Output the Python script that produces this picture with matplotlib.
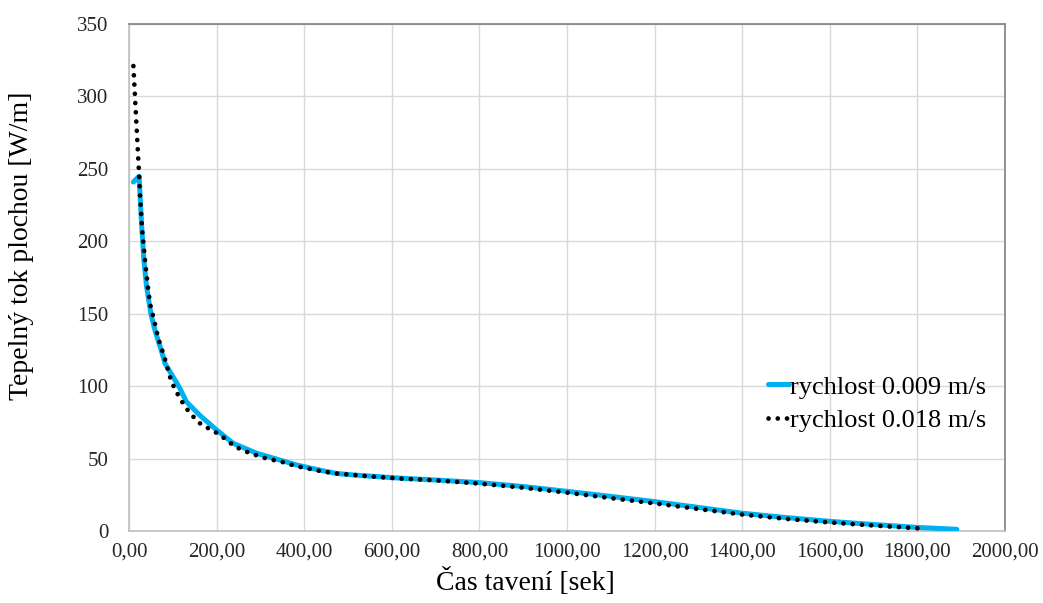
import matplotlib
matplotlib.use("Agg")
import matplotlib.pyplot as plt
from matplotlib.ticker import MultipleLocator, FuncFormatter

# Heat flux over melting time for two feed speeds
t_slow = [10, 23, 25, 29, 34, 40, 50, 59, 78, 82, 116, 131, 162, 200, 238, 291, 344,
          382, 440, 474, 520, 560, 618, 700, 800, 900, 1000, 1100, 1200, 1300, 1400,
          1500, 1600, 1700, 1800, 1890]
q_slow = [241, 245, 233, 210, 187, 169, 150, 139, 120.5, 116, 98.8, 89.5, 80, 70, 60.8,
          54, 49.3, 45.9, 42, 40, 38.8, 38, 36.8, 35.5, 33.7, 31, 27.7, 24.2, 20.6, 16.6,
          12.6, 9.6, 7, 4.8, 2.8, 1.5]

t_fast = [10, 16, 22.5, 25, 30, 36.5, 42.6, 48, 58, 67, 80.5, 97, 116, 139, 166, 189,
          208, 242, 276, 312, 356, 379, 440, 474, 550, 618, 700, 800, 900, 1000, 1100,
          1200, 1300, 1400, 1500, 1600, 1700, 1810]
q_fast = [321, 286, 249, 233, 208, 187, 170, 157, 144.7, 133, 120.5, 103, 91.8, 81.5,
          73.4, 70, 66.5, 58.5, 54, 50.5, 47.5, 45.2, 41.5, 40, 38, 36.5, 35.3, 33,
          30.2, 26.8, 23, 19.4, 15.5, 11.7, 8.7, 6.2, 4.1, 2]

labels = ["rychlost 0.009 m/s", "rychlost 0.018 m/s"]
x_label = "Čas tavení [sek]"
y_label = "Tepelný tok plochou [W/m]"

plt.rcParams["font.family"] = ["Liberation Serif", "DejaVu Serif"]

fig = plt.figure(figsize=(10.43, 6.03), dpi=100)
ax = fig.add_axes([0.1237, 0.1186, 0.8399, 0.8416])

ax.plot(t_slow, q_slow, color="#00b0f0", lw=3.6, solid_capstyle="round",
        solid_joinstyle="round", label=labels[0], zorder=3)
ax.plot(t_fast, q_fast, color="black", lw=3.4, linestyle=(0, (0.01, 1.95)),
        dash_capstyle="round", label=labels[1], zorder=4)

ax.set_xlim(0, 2000)
ax.set_ylim(0, 350)
ax.xaxis.set_major_locator(MultipleLocator(200))
ax.yaxis.set_major_locator(MultipleLocator(50))
ax.xaxis.set_major_formatter(FuncFormatter(lambda v, p: f"{v:.2f}".replace(".", ",")))
ax.yaxis.set_major_formatter(FuncFormatter(lambda v, p: f"{v:.0f}"))

ax.grid(True, color="#d9d9d9", lw=1.0)
ax.set_axisbelow(True)
ax.tick_params(length=0, labelsize=15, colors="#262626")
ax.tick_params(axis="x", pad=8)
ax.tick_params(axis="y", pad=15)
for s in ("left", "bottom"):
    ax.spines[s].set_color("#bfbfbf")
    ax.spines[s].set_linewidth(1.2)
for s in ("top", "right"):
    ax.spines[s].set_color("#808080")
    ax.spines[s].set_linewidth(1.2)

ax.set_xlabel(x_label, fontsize=20)
ax.set_ylabel(y_label, fontsize=20)
ax.xaxis.set_label_coords(0.453, -0.072)
ax.yaxis.set_label_coords(-0.108, 0.5626)

leg = ax.legend(loc="center right", bbox_to_anchor=(0.997, 0.252), frameon=False,
                fontsize=19, handlelength=0.8, handletextpad=0.05,
                labelspacing=0.38, borderpad=0.1)

fig.savefig("out.png", dpi=100, facecolor="white")
